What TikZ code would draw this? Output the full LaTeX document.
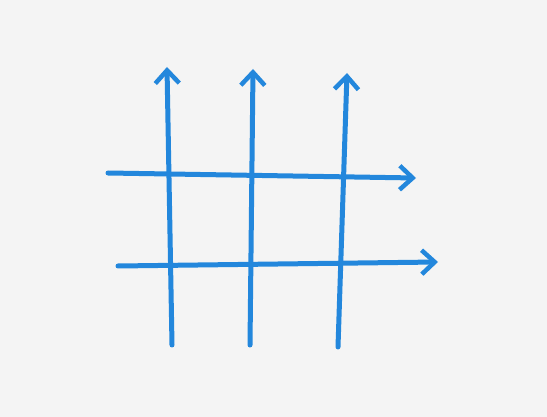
\documentclass[tikz,border=0pt]{standalone}
\usepackage{tikz}
\usetikzlibrary{arrows.meta}
\definecolor{penblue}{RGB}{35,135,220}
\definecolor{paper}{RGB}{244,244,244}

\begin{document}
\begin{tikzpicture}[x=1pt,y=-1pt,
    pen/.style={penblue,line width=5pt,line cap=round,
      -{Straight Barb[length=13pt,width=24pt,line width=4.5pt]}}]
      \fill[paper] (0,0) rectangle (547,417);
      \useasboundingbox (0,0) rectangle (547,417);
      % vertical strokes
      \coordinate (v1s) at (172,345);
      \coordinate (v1e) at (167,67);
      \coordinate (v2s) at (250,345);
      \coordinate (v2e) at (253,69);
      \coordinate (v3s) at (338,347);
      \coordinate (v3e) at (347,73);
      % horizontal strokes
      \coordinate (h1s) at (108,173);
      \coordinate (h1e) at (416,178);
      \coordinate (h2s) at (118,266);
      \coordinate (h2e) at (438,262);
      \draw[pen] (v1s) -- (v1e);
      \draw[pen] (v2s) -- (v2e);
      \draw[pen] (v3s) -- (v3e);
      \draw[pen] (h1s) -- (h1e);
      \draw[pen] (h2s) -- (h2e);
\end{tikzpicture}
\end{document}
